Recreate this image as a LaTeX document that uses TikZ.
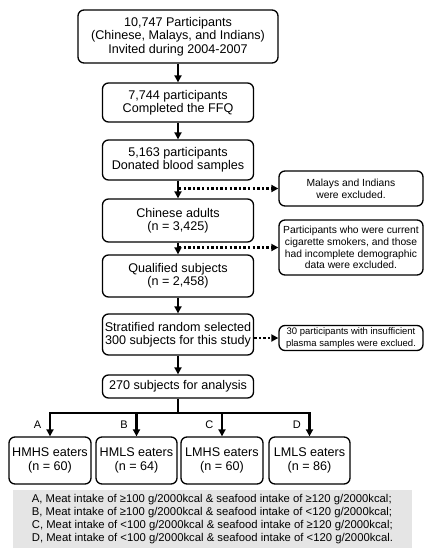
\documentclass[tikz,border=0pt]{standalone}
\usepackage{fontspec}
\setmainfont{Liberation Sans}
\usetikzlibrary{arrows.meta,positioning}

\tikzset{
  stepbox/.style={draw, rounded corners=6pt, line width=1.3pt, align=center,
    inner sep=0pt, font=\fontsize{12.6}{13.3}\selectfont},
  notebox/.style={stepbox, font=\fontsize{10.3}{11.7}\selectfont},
  groupbox/.style={stepbox, minimum width=81pt, minimum height=47pt},
  flow/.style={-{Triangle[length=7pt,width=7pt]}, line width=2.7pt},
  skip/.style={-{Triangle[length=7pt,width=7pt]}, line width=2.7pt,
    dash pattern=on 2.4pt off 2.2pt},
}

\begin{document}
\begin{tikzpicture}[x=1pt,y=-1pt]
    \useasboundingbox (0,0) rectangle (430,550);

    % Main chain of selection steps
    \node[stepbox, minimum width=200pt, minimum height=53pt] (invited) at (178,36.5)
        {10,747 Participants\\(Chinese, Malays, and Indians)\\Invited during 2004-2007};
    \node[stepbox, minimum width=151pt, minimum height=39pt] (ffq) at (178,102.5)
        {7,744 participants\\Completed the FFQ};
    \node[stepbox, minimum width=151pt, minimum height=40pt] (blood) at (178,160)
        {5,163 participants\\Donated blood samples};
    \node[stepbox, minimum width=151pt, minimum height=43pt] (chinese) at (178,220.5)
        {Chinese adults\\(n = 3,425)};
    \node[stepbox, minimum width=151pt, minimum height=42pt] (qualified) at (178,276)
        {Qualified subjects\\(n = 2,458)};
    \node[stepbox, minimum width=151pt, minimum height=41pt] (selected) at (178,334.5)
        {Stratified random selected\\300 subjects for this study};
    \node[stepbox, minimum width=151pt, minimum height=23pt] (analysis) at (178,386.5)
        {270 subjects for analysis};

    \draw[flow] (invited) -- (ffq);
    \draw[flow] (ffq) -- (blood);
    \draw[flow] (blood) -- (chinese);
    \draw[flow] (chinese) -- (qualified);
    \draw[flow] (qualified) -- (selected);
    \draw[flow] (selected) -- (analysis);

    % Exclusions
    \node[notebox, minimum width=144pt, minimum height=35pt] (excl1) at (351,188.5)
        {Malays and Indians\\were excluded.};
    \node[notebox, minimum width=144pt, minimum height=55pt] (excl2) at (351,247.5)
        {Participants who were current\\cigarette smokers, and those\\had incomplete demographic\\data were excluded.};
    \node[notebox, minimum width=144pt, minimum height=25pt,
        font=\fontsize{9.5}{11.2}\selectfont] (excl3) at (351,338)
        {30 participants with insufficient\\plasma samples were exclued.};

    \coordinate (cut1) at (179,188.5);
    \coordinate (cut2) at (179,247.5);
    \draw[skip] (cut1) -- (excl1.west);
    \draw[skip] (cut2) -- (excl2.west);
    \draw[skip] (selected.east |- excl3.west) -- (excl3.west);

    % Four groups
    \node[groupbox, minimum width=82pt] (grpA) at (50,460.5) {HMHS eaters\\(n = 60)};
    \node[groupbox] (grpB) at (136.5,460.5) {HMLS eaters\\(n = 64)};
    \node[groupbox, minimum width=82pt] (grpC) at (222,460.5) {LMHS eaters\\(n = 60)};
    \node[groupbox] (grpD) at (309.5,460.5) {LMLS eaters\\(n = 86)};

    \coordinate (fork) at (178,413);
    \draw[line width=2.7pt] (analysis) -- (fork);
    \draw[line width=2.7pt, line cap=rect] (grpA |- fork) -- (grpD |- fork);
    \foreach \g/\l in {grpA/A, grpB/B, grpC/C, grpD/D}
        \draw[flow] (\g |- fork) -- (\g.north)
            node[midway, left=4pt, font=\fontsize{11}{12}\selectfont] {\l};

    % Legend
    \node[fill=black!10, minimum width=399pt, minimum height=58pt, inner sep=0pt,
        align=left, font=\fontsize{11.3}{13}\selectfont] (legend) at (212.5,519)
        {A, Meat intake of ≥100 g/2000kcal \& seafood intake of ≥120 g/2000kcal;\\
         B, Meat intake of ≥100 g/2000kcal \& seafood intake of <120 g/2000kcal;\\
         C, Meat intake of <100 g/2000kcal \& seafood intake of ≥120 g/2000kcal;\\
         D, Meat intake of <100 g/2000kcal \& seafood intake of <120 g/2000kcal.};
\end{tikzpicture}
\end{document}
